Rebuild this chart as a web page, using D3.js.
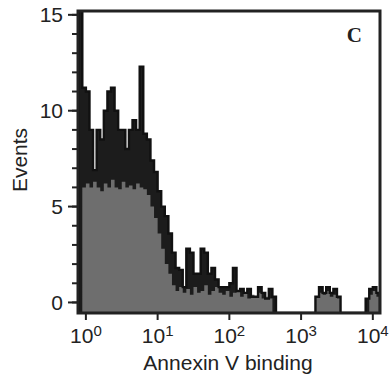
<!DOCTYPE html>
<html>
<head>
<meta charset="utf-8">
<script src="https://cdn.jsdelivr.net/npm/d3@7"></script>
<style>
  html, body { margin: 0; padding: 0; background: #fff; }
  svg text { font-family: "Liberation Sans", Arial, sans-serif; fill: #222; }
</style>
</head>
<body>
<svg id="chart" width="392" height="382"></svg>
<script>
// channel layout: log10 bins of 0.05 decade starting at 10^-0.1
var binStartLog = -0.1
var binWidthLog = 0.05

// gray (control) histogram, events per channel bin
var controlCounts = [
  0, 6.0, 6.2, 6.0, 6.3, 6.0, 5.8, 6.2, 6.0, 6.4,
  6.0, 5.9, 6.3, 6.0, 6.1, 5.9, 6.2, 6.0, 5.9, 5.6,
  5.0, 4.4, 3.6, 2.8, 2.0, 1.5, 0.9, 0.6, 0.8, 0.5,
  0.7, 0.4, 0.8, 0.5, 0.6, 0.9, 0.4, 0.6, 0.8, 0.5,
  0.4, 0.6, 0.3, 0.5, 0.6, 0.3, 0.5, 0.2, 0.4, 0.3,
  0.5, 0.2, 0.3, 0.2, 0, 0, 0, 0, 0, 0,
  0, 0, 0, 0, 0, 0, 0.3, 0.5, 0.4, 0.6,
  0.3, 0.4, 0.2, 0, 0, 0, 0, 0, 0, 0,
  0, 0.4, 0.6, 0.3
]

// black (treated) histogram
var treatedCounts = [
  16, 11.2, 11, 9, 6.9, 9, 8.5, 10, 11, 11.2,
  10, 9, 9, 8, 9, 9.5, 9, 12.3, 8.8, 8.5,
  7.4, 6.8, 5.8, 5.0, 4.5, 3.6, 2.6, 1.8, 1.7, 0.8,
  2.8, 2.6, 1.5, 1.5, 2.8, 2.6, 1.5, 1.8, 1.2, 0.8,
  0.8, 0.8, 1.0, 1.8, 0.6, 0.7, 0.5, 0.7, 0.3, 0.3,
  0.8, 0.5, 0.2, 0.7, 0.3, 0, 0, 0, 0, 0,
  0, 0, 0, 0, 0, 0, 0.3, 0.8, 0.5, 0.8,
  0.5, 0.7, 0.3, 0, 0, 0, 0, 0, 0, 0,
  0.2, 0.7, 0.8, 0.5
]

var yTicks = [0, 5, 10, 15]
var yMinorTicks = d3.range(0, 16)
var xTicks = [1, 10, 100, 1000, 10000]
var xLabel = "Annexin V binding"
var yLabel = "Events"
var panelLetter = "C"

var svg = d3.select("#chart")
var box = { left: 78, top: 11, right: 380, bottom: 313 }

var x = d3.scaleLog()
  .domain([Math.pow(10, -0.11), Math.pow(10, 4.1)])
  .range([box.left, box.right])
var y = d3.scaleLinear()
  .domain([-0.55, 15.2])
  .range([box.bottom, box.top])
var base = y(-0.55)

svg.append("defs").append("clipPath").attr("id", "plotClip")
  .append("rect")
  .attr("x", box.left).attr("y", box.top)
  .attr("width", box.right - box.left).attr("height", box.bottom - box.top)

function stepPoints(counts) {
  var pts = [[x(Math.pow(10, binStartLog)), base]]
  counts.forEach(function (c, i) {
    var x0 = x(Math.pow(10, binStartLog + i * binWidthLog))
    var x1 = x(Math.pow(10, binStartLog + (i + 1) * binWidthLog))
    var yy = c > 0 ? y(c) : base
    pts.push([x0, yy], [x1, yy])
  })
  pts.push([pts[pts.length - 1][0], base])
  return pts
}

var area = d3.area().x(d => d[0]).y0(base).y1(d => d[1])
var plot = svg.append("g").attr("clip-path", "url(#plotClip)")

// treated histogram body (dark), control on top, treated outline last
plot.append("path")
  .attr("d", area(stepPoints(treatedCounts)))
  .attr("fill", "#1c1c1c")

plot.append("path")
  .attr("d", area(stepPoints(controlCounts)))
  .attr("fill", "#6e6e6e")

plot.append("path")
  .attr("d", d3.line()(stepPoints(treatedCounts)))
  .attr("fill", "none")
  .attr("stroke", "#111")
  .attr("stroke-width", 2.4)

// frame
svg.append("rect")
  .attr("x", box.left).attr("y", box.top)
  .attr("width", box.right - box.left).attr("height", box.bottom - box.top)
  .attr("fill", "none")
  .attr("stroke", "#222")
  .attr("stroke-width", 3)

// y axis ticks
var yAxis = svg.append("g")
yAxis.selectAll("line.minor")
  .data(yMinorTicks)
  .enter().append("line")
  .attr("class", "minor")
  .attr("x1", box.left - 6).attr("x2", box.left)
  .attr("y1", d => y(d)).attr("y2", d => y(d))
  .attr("stroke", "#222").attr("stroke-width", 2)
yAxis.selectAll("line.major")
  .data(yTicks)
  .enter().append("line")
  .attr("class", "major")
  .attr("x1", box.left - 10).attr("x2", box.left)
  .attr("y1", d => y(d)).attr("y2", d => y(d))
  .attr("stroke", "#222").attr("stroke-width", 2)
yAxis.selectAll("text")
  .data(yTicks)
  .enter().append("text")
  .attr("x", box.left - 15)
  .attr("y", d => y(d) + 7.5)
  .attr("text-anchor", "end")
  .style("font-size", "21px")
  .text(d => d)

// x axis ticks
var xAxis = svg.append("g")
xAxis.selectAll("line")
  .data(xTicks)
  .enter().append("line")
  .attr("x1", d => x(d)).attr("x2", d => x(d))
  .attr("y1", box.bottom).attr("y2", box.bottom + 7)
  .attr("stroke", "#222").attr("stroke-width", 2)
var xt = xAxis.selectAll("text")
  .data(xTicks)
  .enter().append("text")
  .attr("x", d => x(d))
  .attr("y", 343)
  .attr("text-anchor", "middle")
  .style("font-size", "21px")
xt.append("tspan").text("10")
xt.append("tspan")
  .attr("dy", -7)
  .style("font-size", "15px")
  .text(d => Math.round(Math.log10(d)))

svg.append("text")
  .attr("x", 228).attr("y", 370)
  .attr("text-anchor", "middle")
  .style("font-size", "21px")
  .text(xLabel)

svg.append("text")
  .attr("transform", "translate(27,160) rotate(-90)")
  .attr("text-anchor", "middle")
  .style("font-size", "21px")
  .text(yLabel)

svg.append("text")
  .attr("x", 362).attr("y", 42)
  .attr("text-anchor", "end")
  .style("font-family", "'Liberation Serif', 'Times New Roman', serif")
  .style("font-weight", "bold")
  .style("font-size", "21px")
  .text(panelLetter)
</script>
</body>
</html>
